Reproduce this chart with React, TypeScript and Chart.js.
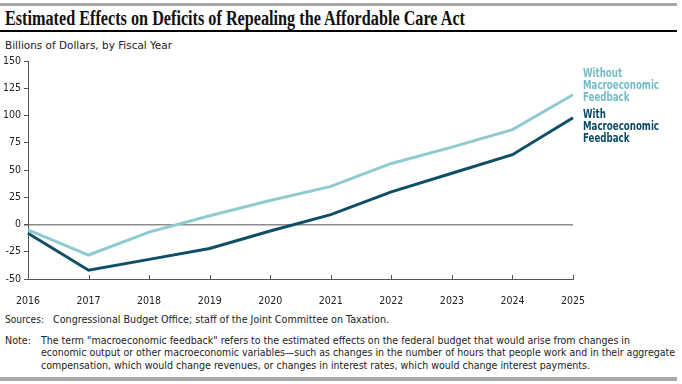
import React, { useEffect, useLayoutEffect, useRef } from "react";
import { Chart, registerables } from "chart.js";

Chart.register(...registerables);

// ---------- data ----------
const YEARS = ["2016", "2017", "2018", "2019", "2020", "2021", "2022", "2023", "2024", "2025"];
const WITHOUT_FEEDBACK = [-5, -28, -7, 8, 22, 35, 56, 71, 87, 119];
const WITH_FEEDBACK = [-8, -42, -32, -22, -6, 9, 30, 47, 64, 98];
const Y_MIN = -50;
const Y_MAX = 150;
const Y_STEP = 25;

const TITLE = "Estimated Effects on Deficits of Repealing the Affordable Care Act";
const SUBTITLE = "Billions of Dollars, by Fiscal Year";
const LABEL_WITHOUT = ["Without", "Macroeconomic", "Feedback"];
const LABEL_WITH = ["With", "Macroeconomic", "Feedback"];
const SOURCES_LABEL = "Sources:";
const SOURCES_TEXT = "Congressional Budget Office; staff of the Joint Committee on Taxation.";
const NOTE_LABEL = "Note:";
const NOTE_LINES = [
  "The term \"macroeconomic feedback\" refers to the estimated effects on the federal budget that would arise from changes in",
  "economic output or other macroeconomic variables\u2014such as changes in the number of hours that people work and in their aggregate",
  "compensation, which would change revenues, or changes in interest rates, which would change interest payments.",
];

// ---------- styles ----------
const SANS =
  "'Liberation Sans Narrow', 'Arial Narrow', 'DejaVu Sans Condensed', 'Liberation Sans', Arial, sans-serif";
const SERIF = "'Liberation Serif', 'DejaVu Serif', serif";
const LIGHT = "#8fcad1";
const DARK = "#0e4f66";
const LIGHT_TEXT = "#74bcc6";
const DARK_TEXT = "#0b4a66";
const AXIS = "#555555";
const ZERO = "#8c8c8c";
const TEXT = "#222222";

function FitText(props: { text: string; width: number; left: number; top: number; style?: any }) {
  const ref = useRef<HTMLSpanElement>(null);
  useLayoutEffect(() => {
    const el = ref.current;
    if (!el) return;
    el.style.transform = "none";
    const w = el.getBoundingClientRect().width;
    if (w > 0) el.style.transform = `scaleX(${props.width / w})`;
  }, [props.text, props.width]);
  return (
    <span
      ref={ref}
      style={{
        position: "absolute",
        left: props.left,
        top: props.top,
        display: "inline-block",
        whiteSpace: "nowrap",
        transformOrigin: "0 0",
        ...props.style,
      }}
    >
      {props.text}
    </span>
  );
}

function FitBlock(props: { lines: string[]; width: number; left: number; top: number; style?: any }) {
  const ref = useRef<HTMLDivElement>(null);
  useLayoutEffect(() => {
    const el = ref.current;
    if (!el) return;
    el.style.transform = "none";
    const w = el.getBoundingClientRect().width;
    if (w > 0) el.style.transform = `scaleX(${props.width / w})`;
  }, [props.width]);
  return (
    <div
      ref={ref}
      style={{
        position: "absolute",
        left: props.left,
        top: props.top,
        display: "inline-block",
        whiteSpace: "nowrap",
        transformOrigin: "0 0",
        ...props.style,
      }}
    >
      {props.lines.map((l, i) => (
        <div key={i}>{l}</div>
      ))}
    </div>
  );
}

const xTicksUp = {
  id: "xTicksUp",
  afterDatasetsDraw(chart: any) {
    const xs = chart.scales.x;
    const ctx = chart.ctx;
    const bottom = chart.chartArea.bottom;
    ctx.save();
    ctx.strokeStyle = AXIS;
    ctx.lineWidth = 1;
    xs.ticks.forEach((_: any, i: number) => {
      const px = Math.round(xs.getPixelForTick(i)) + 0.5;
      ctx.beginPath();
      ctx.moveTo(px, bottom);
      ctx.lineTo(px, bottom - 4);
      ctx.stroke();
    });
    ctx.restore();
  },
};

export default function App() {
  const canvasRef = useRef<HTMLCanvasElement>(null);

  useEffect(() => {
    if (!canvasRef.current) return;
    const chart = new Chart(canvasRef.current, {
      type: "line",
      data: {
        labels: YEARS,
        datasets: [
          {
            label: LABEL_WITHOUT.join(" "),
            data: WITHOUT_FEEDBACK,
            borderColor: LIGHT,
            backgroundColor: LIGHT,
            borderWidth: 3,
            pointRadius: 0,
            tension: 0,
            fill: false,
          },
          {
            label: LABEL_WITH.join(" "),
            data: WITH_FEEDBACK,
            borderColor: DARK,
            backgroundColor: DARK,
            borderWidth: 3,
            pointRadius: 0,
            tension: 0,
            fill: false,
          },
        ],
      },
      options: {
        responsive: false,
        animation: false,
        devicePixelRatio: 1,
        layout: { padding: { top: 11, right: 109, bottom: 0, left: 0 } },
        plugins: { legend: { display: false }, tooltip: { enabled: false } },
        scales: {
          x: {
            type: "category",
            offset: false,
            grid: { display: false },
            border: { display: true, color: AXIS, width: 1 },
            ticks: {
              padding: 8,
              color: TEXT,
              font: { family: SANS, size: 10.5 },
              maxRotation: 0,
              autoSkip: false,
            },
            afterFit: (s: any) => {
              s.height = 31;
            },
          },
          y: {
            min: Y_MIN,
            max: Y_MAX,
            ticks: {
              stepSize: Y_STEP,
              padding: 3,
              color: TEXT,
              font: { family: SANS, size: 10.5 },
            },
            grid: {
              drawOnChartArea: true,
              drawTicks: true,
              tickLength: 4,
              tickColor: AXIS,
              color: (ctx: any) => (ctx.tick && ctx.tick.value === 0 ? ZERO : "rgba(0,0,0,0)"),
              lineWidth: (ctx: any) => (ctx.tick && ctx.tick.value === 0 ? 1.5 : 1),
            },
            border: { display: true, color: AXIS, width: 1 },
            afterFit: (s: any) => {
              s.width = 28;
            },
          },
        },
      },
      plugins: [xTicksUp],
    } as any);
    return () => chart.destroy();
  }, []);

  const small = { fontFamily: SANS, fontSize: 11, lineHeight: "11px", color: TEXT };

  return (
    <div
      style={{
        position: "fixed",
        left: 0,
        top: 0,
        width: 682,
        height: 384,
        background: "#ffffff",
        overflow: "hidden",
      }}
    >
      <div style={{ position: "absolute", left: 0, top: 3, width: 677, height: 3, background: "#a8a8a8" }} />
      <FitText
        text={TITLE}
        width={460}
        left={5}
        top={8}
        style={{ fontFamily: SERIF, fontWeight: "bold", fontSize: 20, lineHeight: "20px", color: "#111" }}
      />
      <div style={{ position: "absolute", left: 0, top: 30, width: 677, height: 2, background: "#000" }} />
      <FitText text={SUBTITLE} width={167} left={5} top={39.5} style={small} />

      <canvas
        ref={canvasRef}
        width={682}
        height={260}
        style={{ position: "absolute", left: 0, top: 50, width: 682, height: 260, display: "block" }}
      />

      <FitBlock
        lines={LABEL_WITHOUT}
        width={76}
        left={583}
        top={67}
        style={{ fontFamily: SANS, fontWeight: "bold", fontSize: 11.5, lineHeight: "12px", color: LIGHT_TEXT }}
      />
      <FitBlock
        lines={LABEL_WITH}
        width={76}
        left={583}
        top={108}
        style={{ fontFamily: SANS, fontWeight: "bold", fontSize: 11.5, lineHeight: "12px", color: DARK_TEXT }}
      />

      <FitText text={SOURCES_LABEL} width={39} left={5} top={313.5} style={small} />
      <FitText text={SOURCES_TEXT} width={336} left={53} top={313.5} style={small} />
      <FitText text={NOTE_LABEL} width={26} left={5} top={334.5} style={small} />
      <FitText text={NOTE_LINES[0]} width={589} left={41} top={334.5} style={small} />
      <FitText text={NOTE_LINES[1]} width={634} left={41} top={347} style={small} />
      <FitText text={NOTE_LINES[2]} width={549} left={41} top={359.5} style={small} />

      <div style={{ position: "absolute", left: 0, top: 377, width: 677, height: 4, background: "#a8a8a8" }} />
    </div>
  );
}
